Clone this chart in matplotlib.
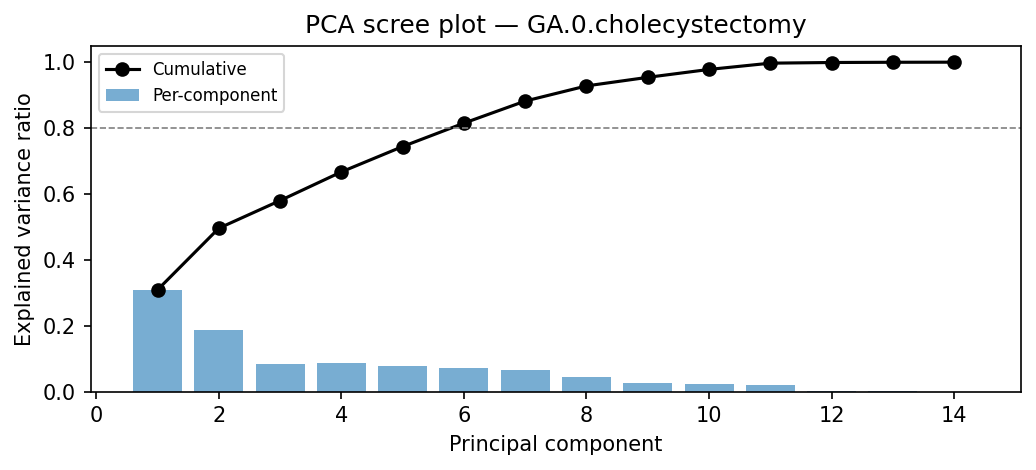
import numpy as np
import matplotlib
matplotlib.use("Agg")
import matplotlib.pyplot as plt

components = list(range(1, 15))
per_component = [0.309, 0.187, 0.084, 0.087, 0.077, 0.071, 0.067,
                 0.046, 0.026, 0.024, 0.019, 0.002, 0.0007, 0.0003]
cumulative = [0.309, 0.496, 0.580, 0.667, 0.744, 0.815, 0.882,
              0.928, 0.954, 0.978, 0.997, 0.999, 0.9997, 1.0]
threshold = 0.8

fig = plt.figure(figsize=(1036 / 150, 470 / 150), dpi=150)
ax = fig.add_axes([90.7 / 1036, 1 - 391.7 / 470, (1021 - 90.7) / 1036, (391.7 - 45.7) / 470])

bars = ax.bar(components, per_component, width=0.8, color="#1f77b4", alpha=0.6,
              label="Per-component")
line, = ax.plot(components, cumulative, color="black", marker="o", lw=1.5,
                markersize=6, label="Cumulative")
ax.axhline(threshold, color="gray", ls="--", lw=0.8)

ax.set_xlabel("Principal component")
ax.set_ylabel("Explained variance ratio")
ax.set_title("PCA scree plot \u2014 GA.0.cholecystectomy")
ax.set_ylim(0, 1.05)
ax.legend(handles=[line, bars], labels=["Cumulative", "Per-component"],
          loc="upper left", fontsize=8)

fig.savefig("out.png", dpi=150)
